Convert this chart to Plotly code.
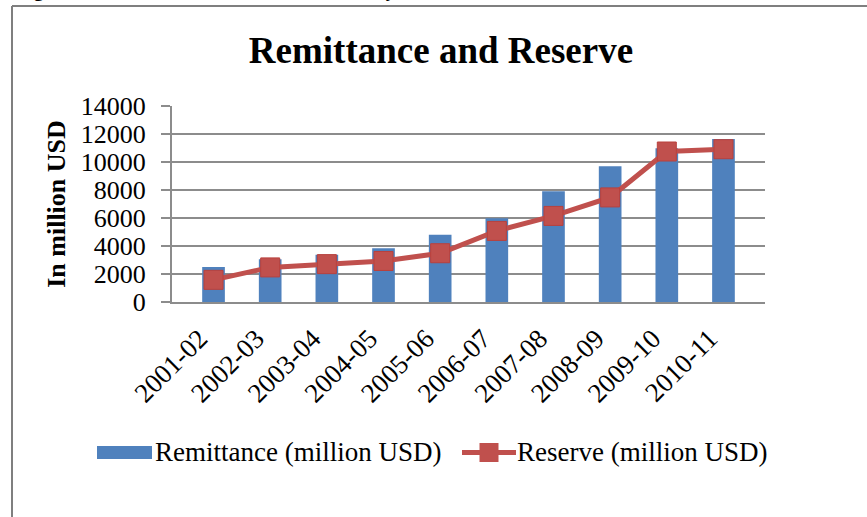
import plotly.graph_objects as go

# Fiscal years and values (million USD)
years = ["2001-02", "2002-03", "2003-04", "2004-05", "2005-06",
         "2006-07", "2007-08", "2008-09", "2009-10", "2010-11"]
remittance = [2501, 3062, 3372, 3848, 4802, 5978, 7915, 9689, 10987, 11650]
reserve = [1583, 2470, 2705, 2930, 3484, 5077, 6149, 7471, 10750, 10912]
y_ticks = [0, 2000, 4000, 6000, 8000, 10000, 12000, 14000]

BLUE = "#4F81BD"
RED = "#C0504D"
GRID = "#8C8C8C"
SERIF = "Liberation Serif, Times New Roman, serif"

W, H = 867, 517
ML, MR, MT, MB = 172, 102, 106, 215
PW, PH = W - ML - MR, H - MT - MB


def px_x(px):
    return (px - ML) / PW


def px_y(py):
    return (H - MB - py) / PH


fig = go.Figure()
fig.add_trace(go.Bar(
    x=years, y=remittance, name="Remittance (million USD)",
    marker=dict(color=BLUE, line=dict(width=0)), showlegend=False,
))
fig.add_trace(go.Scatter(
    x=years, y=reserve, name="Reserve (million USD)", mode="lines+markers",
    line=dict(color=RED, width=5),
    marker=dict(symbol="square", size=19, color=RED, line=dict(width=1, color="#B9403D")),
    showlegend=False,
))

shapes = [
    # chart frame (left and top edges)
    dict(type="line", xref="paper", yref="paper", x0=px_x(12), x1=px_x(12),
         y0=px_y(6), y1=px_y(H + 5), line=dict(color="#7F7F7F", width=2)),
    dict(type="line", xref="paper", yref="paper", x0=px_x(12), x1=px_x(W + 5),
         y0=px_y(6), y1=px_y(6), line=dict(color="#7F7F7F", width=2)),
    # legend keys
    dict(type="rect", xref="paper", yref="paper", x0=px_x(97), x1=px_x(152),
         y0=px_y(446), y1=px_y(459), fillcolor=BLUE, line=dict(width=0)),
    dict(type="line", xref="paper", yref="paper", x0=px_x(462), x1=px_x(516),
         y0=px_y(452.5), y1=px_y(452.5), line=dict(color=RED, width=5)),
    dict(type="rect", xref="paper", yref="paper", x0=px_x(479.5), x1=px_x(498.5),
         y0=px_y(443), y1=px_y(462), fillcolor=RED, line=dict(width=0)),
]

annotations = [
    dict(text="<b>Figure 4: Remittance and Reserve over the years</b>", xref="paper", yref="paper",
         x=px_x(14), y=px_y(3), xanchor="left", yanchor="bottom", showarrow=False,
         font=dict(family=SERIF, size=20, color="black")),
    dict(text="Remittance (million USD)", xref="paper", yref="paper",
         x=px_x(153), y=px_y(452), xanchor="left", yanchor="middle", showarrow=False,
         font=dict(family=SERIF, size=27, color="black")),
    dict(text="Reserve (million USD)", xref="paper", yref="paper",
         x=px_x(515), y=px_y(452), xanchor="left", yanchor="middle", showarrow=False,
         font=dict(family=SERIF, size=27, color="black")),
]

fig.update_layout(
    width=W, height=H,
    margin=dict(l=ML, r=MR, t=MT, b=MB, pad=0),
    paper_bgcolor="white", plot_bgcolor="white",
    bargap=0.6,
    title=dict(text="<b>Remittance and Reserve</b>", xref="container", x=441 / W,
               xanchor="center", y=1 - 50 / H, yanchor="middle",
               font=dict(family=SERIF, size=37, color="black")),
    shapes=shapes,
    annotations=annotations,
    showlegend=False,
)
fig.update_xaxes(
    type="category", tickangle=-45, showgrid=False,
    showline=True, linecolor=GRID, linewidth=2,
    ticks="", ticklabelshift=-14, ticklabelstandoff=8,
    tickfont=dict(family=SERIF, size=27, color="black"),
)
fig.update_yaxes(
    range=[0, 14000], tickvals=y_ticks, ticktext=[str(v) for v in y_ticks],
    showgrid=True, gridcolor=GRID, gridwidth=2,
    showline=True, linecolor=GRID, linewidth=2,
    ticks="outside", ticklen=9, tickcolor=GRID, tickwidth=2,
    ticklabelstandoff=10,
    tickfont=dict(family=SERIF, size=26, color="black"),
    zeroline=False,
    title=dict(text="<b>In million USD</b>", standoff=8,
               font=dict(family=SERIF, size=26, color="black")),
)

fig.write_html("out.html")
